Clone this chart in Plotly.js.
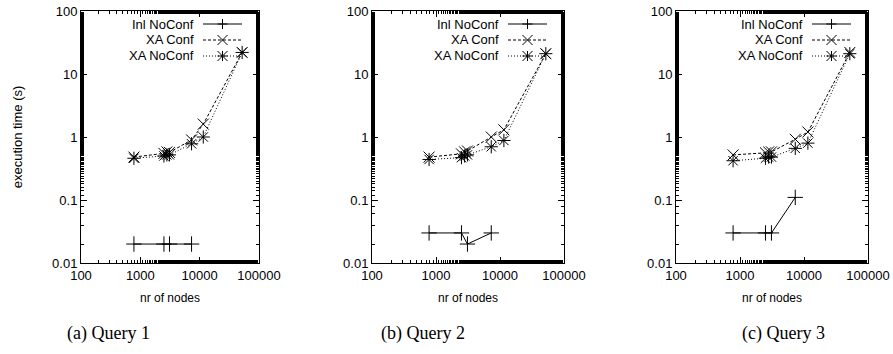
<!DOCTYPE html>
<html>
<head>
<meta charset="utf-8">
<script src="https://cdn.plot.ly/plotly-3.0.1.min.js"></script>
<style>html,body{margin:0;padding:0;background:#fff;}#chart{width:893px;height:354px;}</style>
</head>
<body>
<div id="chart"></div>
<script>
// ---- data ----
const xaNodes = [780, 2500, 2800, 3100, 7300, 11500, 52000];
const inlNodes = [780, 2500, 3100, 7300];

const q1Inl = [0.02, 0.02, 0.02, 0.02];
const q1XAConf = [0.48, 0.55, 0.58, 0.57, 0.9, 1.6, 22];
const q1XANoConf = [0.46, 0.5, 0.52, 0.52, 0.78, 1.0, 22];

const q2Inl = [0.03, 0.03, 0.02, 0.03];
const q2XAConf = [0.48, 0.54, 0.58, 0.6, 1.0, 1.3, 21];
const q2XANoConf = [0.44, 0.47, 0.5, 0.52, 0.7, 0.88, 21];

const q3Inl = [0.03, 0.03, 0.03, 0.11];
const q3XAConf = [0.52, 0.56, 0.58, 0.58, 0.92, 1.2, 22];
const q3XANoConf = [0.42, 0.46, 0.48, 0.48, 0.66, 0.8, 21];

const seriesNames = ["Inl NoConf", "XA Conf", "XA NoConf"];
const captions = ["(a) Query 1", "(b) Query 2", "(c) Query 3"];
const xTickVals = [100, 1000, 10000, 100000];
const xTickText = ["100", "1000", "10000", "100000"];
const yTickVals = [0.01, 0.1, 1, 10, 100];
const yTickText = ["0.01", "0.1", "1", "10", "100"];
const xTitle = "nr of nodes";
const yTitle = "execution time (s)";

// ---- layout helpers ----
const W = 893, H = 354;
const panels = [
  {inl: q1Inl, conf: q1XAConf, noconf: q1XANoConf, left: 81, right: 259, capX: 108},
  {inl: q2Inl, conf: q2XAConf, noconf: q2XANoConf, left: 372, right: 564, capX: 423},
  {inl: q3Inl, conf: q3XAConf, noconf: q3XANoConf, left: 676, right: 868, capX: 783}
];
const plotTop = 11, plotBottom = 263;
const styles = [
  {symbol: "cross-thin-open", dash: "solid"},
  {symbol: "x-thin-open", dash: "3px,2px"},
  {symbol: "asterisk-open", dash: "1px,2px"}
];
const font = "Liberation Sans, Arial, sans-serif";
const px = x => x / W;
const py = y => 1 - y / H;

const traces = [];
const layout = {
  width: W, height: H,
  margin: {l: 0, r: 0, t: 0, b: 0},
  paper_bgcolor: "#fff", plot_bgcolor: "#fff",
  showlegend: false,
  font: {family: font, size: 13, color: "#000"},
  annotations: [], shapes: []
};

panels.forEach((p, i) => {
  const sx = i === 0 ? "" : String(i + 1);
  const xa = "x" + sx, ya = "y" + sx;
  const ys = [p.inl, p.conf, p.noconf];
  const xs = [inlNodes, xaNodes, xaNodes];
  ys.forEach((yv, k) => {
    traces.push({
      type: "scatter", mode: "lines+markers", xaxis: xa, yaxis: ya,
      x: xs[k], y: yv, name: seriesNames[k],
      line: {color: "#000", width: 1, dash: styles[k].dash},
      marker: {symbol: styles[k].symbol, size: 11, color: "#000", line: {color: "#000", width: 1}},
      cliponaxis: false
    });
  });
  const common = {
    type: "log", showline: true, linecolor: "#000", linewidth: 1, mirror: "allticks",
    ticks: "inside", ticklen: 6, tickcolor: "#000", tickwidth: 1,
    showgrid: false, zeroline: false, tickmode: "array",
    tickfont: {family: font, size: 13, color: "#000"},
    minor: {ticks: "inside", ticklen: 3, tickcolor: "#000", tickwidth: 1, showgrid: false}
  };
  layout["xaxis" + sx] = Object.assign({}, common, {
    domain: [px(p.left), px(p.right)], range: [2, 5], anchor: ya,
    tickvals: xTickVals, ticktext: xTickText,
    title: {text: xTitle, font: {family: font, size: 12, color: "#000"}, standoff: 12}
  });
  layout["yaxis" + sx] = Object.assign({}, common, {
    domain: [py(plotBottom), py(plotTop)], range: [-2, 2], anchor: xa,
    tickvals: yTickVals, ticktext: yTickText,
    title: i === 0 ? {text: yTitle, font: {family: font, size: 13, color: "#000"}, standoff: 26} : {text: ""}
  });

  // caption
  layout.annotations.push({
    xref: "paper", yref: "paper", x: px(p.capX), y: py(333), xanchor: "center", yanchor: "middle",
    text: captions[i], showarrow: false, font: {family: "Liberation Serif, serif", size: 18, color: "#000"}
  });

  // legend (gnuplot style: text, then sample line with marker)
  const rows = [24, 40, 56];
  rows.forEach((ry, k) => {
    layout.annotations.push({
      xref: "paper", yref: "paper", x: px(p.right - 63), y: py(ry), xanchor: "right", yanchor: "middle",
      text: seriesNames[k], showarrow: false, font: {family: font, size: 13, color: "#000"}
    });
    layout.shapes.push({
      type: "line", xref: "paper", yref: "paper",
      x0: px(p.right - 56), x1: px(p.right - 17), y0: py(ry), y1: py(ry),
      line: {color: "#000", width: 1, dash: styles[k].dash}
    });
    const cx = p.right - 36.5, cy = ry, h = 5;
    let segs = [];
    if (k === 0 || k === 2) segs.push([cx - h, cy, cx + h, cy], [cx, cy - h, cx, cy + h]);
    if (k === 1 || k === 2) segs.push([cx - h, cy - h, cx + h, cy + h], [cx - h, cy + h, cx + h, cy - h]);
    segs.forEach(s => layout.shapes.push({
      type: "line", xref: "paper", yref: "paper",
      x0: px(s[0]), y0: py(s[1]), x1: px(s[2]), y1: py(s[3]),
      line: {color: "#000", width: 1}
    }));
  });
});

Plotly.newPlot("chart", traces, layout, {staticPlot: true, displayModeBar: false});
</script>
</body>
</html>
